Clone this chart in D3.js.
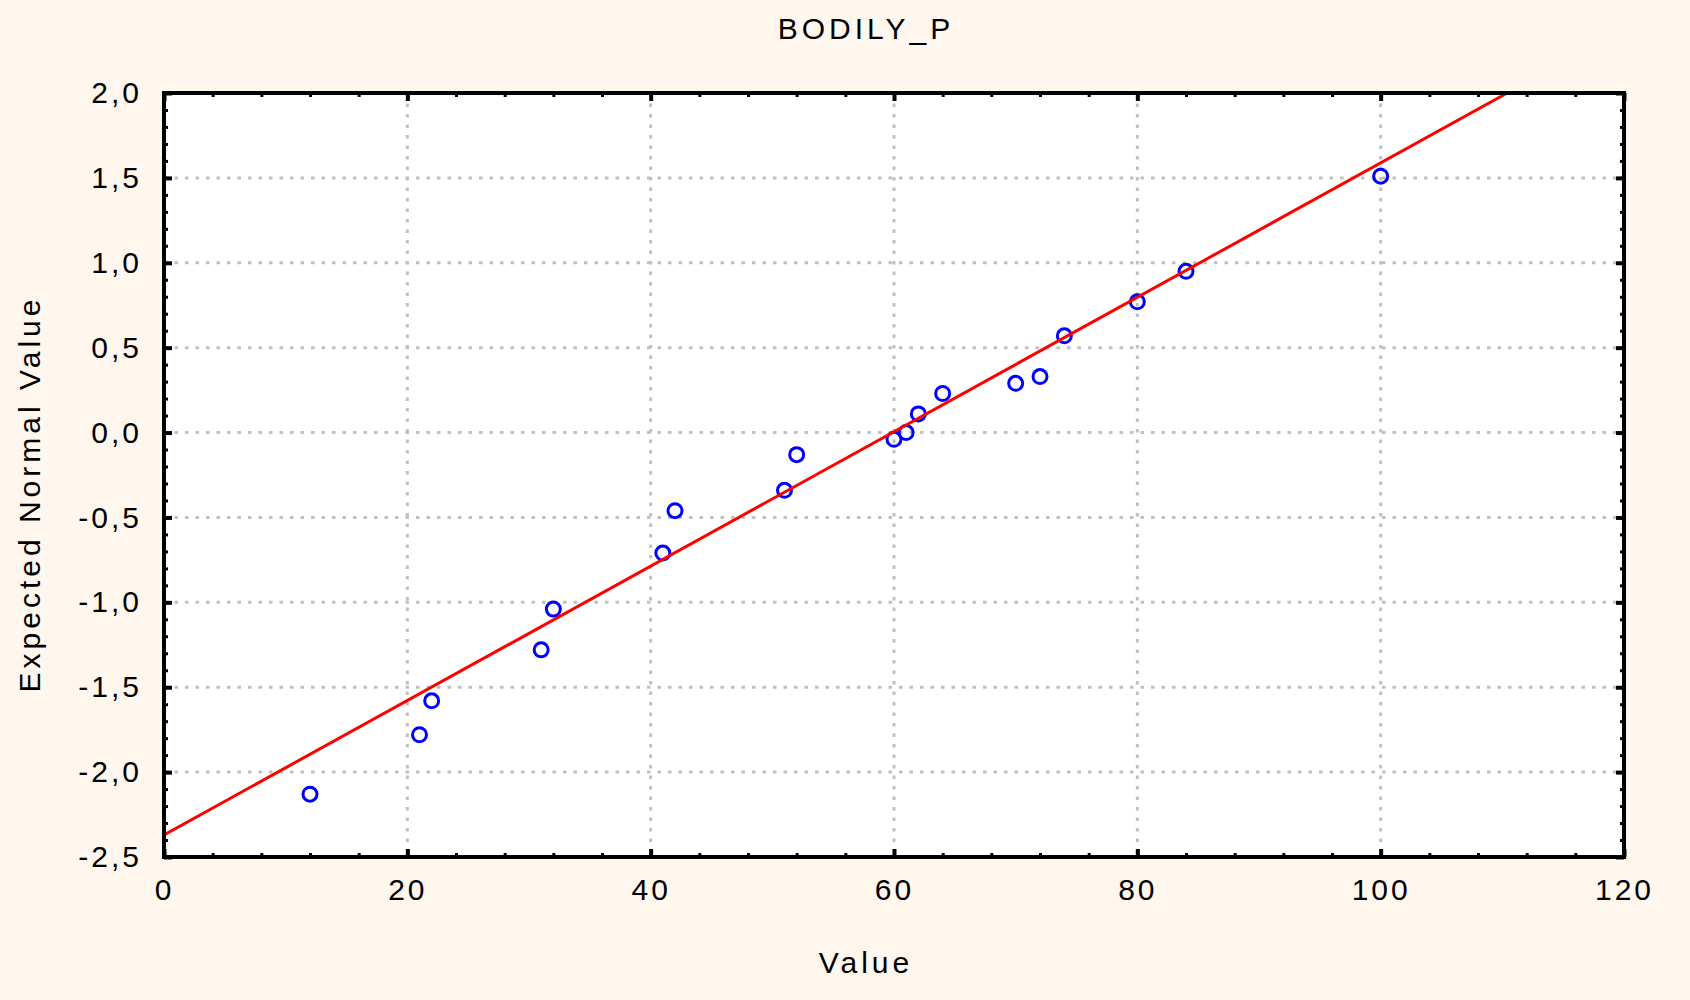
<!DOCTYPE html>
<html>
<head>
<meta charset="utf-8">
<title>BODILY_P</title>
<script src="https://d3js.org/d3.v7.min.js"></script>
<style>
	body { margin: 0; background: #fff7ee; }
	svg { display: block; }
	text { font-family: "Liberation Sans", Arial, sans-serif; fill: #000; letter-spacing: 3px; }
	.title { letter-spacing: 4px; }
	.grid line { stroke: #c0c0c0; stroke-width: 3; stroke-dasharray: 3.5, 7; }
	.axis path { display: none; }
	.axis line { stroke: #000; }
	.fit { fill: none; stroke: #ff0000; stroke-width: 3; }
	.pt { fill: none; stroke: #0000ff; stroke-width: 3; }
</style>
</head>
<body>
<div id="chart"></div>
<script>
(function () {
	"use strict";

	// observed values and their expected normal values
	var obsValue = [12, 21, 22, 31, 32, 41, 42, 51, 52, 60, 61, 62, 64, 70, 72, 74, 80, 84, 100];
	var expNormal = [-2.13, -1.78, -1.58, -1.28, -1.04, -0.71, -0.46, -0.34, -0.13, -0.04, 0.0, 0.11, 0.23, 0.29, 0.33, 0.57, 0.77, 0.95, 1.51];

	// fitted reference line (end points)
	var fitX = [0, 110.4];
	var fitY = [-2.37, 2.0];

	var xTicks = [0, 20, 40, 60, 80, 100, 120];
	var yTicks = [-2.5, -2.0, -1.5, -1.0, -0.5, 0.0, 0.5, 1.0, 1.5, 2.0];

	var title = "BODILY_P",
		xTitle = "Value",
		yTitle = "Expected Normal Value";

	var canvasWidth = 1690,
		canvasHeight = 1000,
		margin = {top: 93, right: 66, bottom: 143, left: 164},
		width = canvasWidth - margin.left - margin.right,
		height = canvasHeight - margin.top - margin.bottom;

	var locale = d3.formatLocale({decimal: ",", thousands: ".", grouping: [3], currency: ["", ""], minus: "-"}),
		fmtY = locale.format(".1f");

	var svg = d3.select("#chart").append("svg")
		.attr("width", canvasWidth)
		.attr("height", canvasHeight);

	svg.append("rect")
		.attr("width", canvasWidth)
		.attr("height", canvasHeight)
		.attr("fill", "#fff7ee");

	var graph = svg.append("g").attr("transform", "translate(" + margin.left + "," + margin.top + ")");

	var x = d3.scaleLinear().domain([0, 120]).range([0, width]),
		y = d3.scaleLinear().domain([-2.5, 2.0]).range([height, 0]);

	graph.append("rect")
		.attr("width", width)
		.attr("height", height)
		.attr("fill", "#fff");

	graph.append("clipPath").attr("id", "plotclip")
		.append("rect").attr("width", width).attr("height", height);

	// dotted grid
	var grid = graph.append("g").attr("class", "grid");
	grid.selectAll(".gx")
		.data(xTicks.slice(1, -1))
		.enter().append("line")
		.attr("x1", function(d) { return x(d); })
		.attr("x2", function(d) { return x(d); })
		.attr("y1", 0)
		.attr("y2", height);
	grid.selectAll(".gy")
		.data(yTicks.slice(1, -1))
		.enter().append("line")
		.attr("y1", function(d) { return y(d); })
		.attr("y2", function(d) { return y(d); })
		.attr("x1", 0)
		.attr("x2", width);

	// points
	graph.append("g").selectAll("circle")
		.data(obsValue)
		.enter().append("circle")
		.attr("class", "pt")
		.attr("cx", function(d) { return x(d); })
		.attr("cy", function(d, i) { return y(expNormal[i]); })
		.attr("r", 7);

	// fitted line
	var line = d3.line()
		.x(function(d) { return x(d); })
		.y(function(d, i) { return y(fitY[i]); });
	graph.append("path")
		.datum(fitX)
		.attr("class", "fit")
		.attr("clip-path", "url(#plotclip)")
		.attr("d", line);

	// frame
	graph.append("rect")
		.attr("width", width)
		.attr("height", height)
		.attr("fill", "none")
		.attr("stroke", "#000")
		.attr("stroke-width", 4);

	// minor ticks (inside)
	var xMinor = d3.range(0, 121, 4),
		yMinor = d3.range(-25, 21, 1).map(function(d) { return d / 10; });

	function addAxis(axis, transform, major) {
		var g = graph.append("g")
			.attr("class", "axis")
			.attr("transform", transform)
			.call(axis);
		g.selectAll("line").attr("stroke-width", major ? 4 : 3);
		return g;
	}

	addAxis(d3.axisBottom(x).tickValues(xMinor).tickSize(-4).tickFormat(""), "translate(0," + height + ")", false);
	addAxis(d3.axisTop(x).tickValues(xMinor).tickSize(-4).tickFormat(""), "", false);
	addAxis(d3.axisLeft(y).tickValues(yMinor).tickSize(-4).tickFormat(""), "", false);
	addAxis(d3.axisRight(y).tickValues(yMinor).tickSize(-4).tickFormat(""), "translate(" + width + ",0)", false);

	var xAxis = addAxis(d3.axisBottom(x).tickValues(xTicks).tickSize(-8).tickPadding(22).tickFormat(d3.format("d")), "translate(0," + height + ")", true);
	addAxis(d3.axisTop(x).tickValues(xTicks).tickSize(-8).tickFormat(""), "", true);
	var yAxis = addAxis(d3.axisLeft(y).tickValues(yTicks).tickSize(-8).tickPadding(22).tickFormat(fmtY), "", true);
	addAxis(d3.axisRight(y).tickValues(yTicks).tickSize(-8).tickFormat(""), "translate(" + width + ",0)", true);

	xAxis.selectAll("text").attr("font-size", 30).attr("fill", "#000");
	yAxis.selectAll("text").attr("font-size", 30).attr("fill", "#000");

	// titles
	svg.append("text")
		.attr("class", "title")
		.attr("x", 866)
		.attr("y", 39)
		.attr("text-anchor", "middle")
		.attr("font-size", 30)
		.text(title);

	svg.append("text")
		.attr("class", "title")
		.attr("x", 866)
		.attr("y", 973)
		.attr("text-anchor", "middle")
		.attr("font-size", 30)
		.text(xTitle);

	svg.append("text")
		.attr("class", "title")
		.attr("transform", "translate(40,494) rotate(-90)")
		.attr("text-anchor", "middle")
		.attr("font-size", 30)
		.text(yTitle);
})();
</script>
</body>
</html>
